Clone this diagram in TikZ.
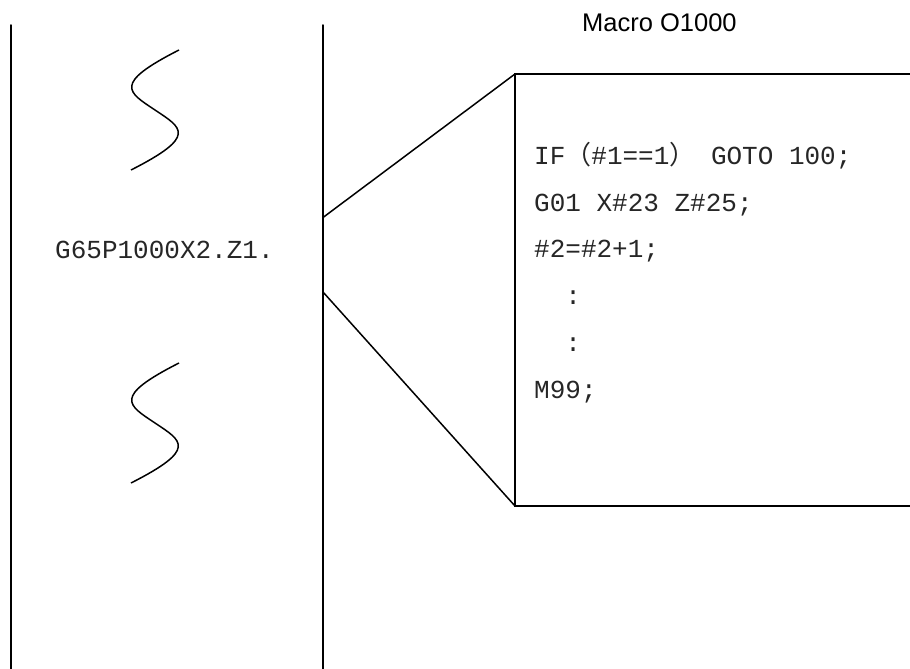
\documentclass[tikz,border=0pt]{standalone}
\usepackage{fontspec}
\setmainfont{Liberation Sans}
\newfontfamily\monof{Liberation Mono}
\newfontfamily\cjk{Noto Sans CJK SC}
\begin{document}
\begin{tikzpicture}[x=1pt,y=-1pt,
  edge/.style={line width=1.5pt,line cap=round},
  wave/.style={line width=1.5pt},
  code/.style={anchor=base west,inner sep=0pt,font=\monof\fontsize{26}{26}\selectfont,text=black!85},
  title/.style={anchor=base west,inner sep=0pt,font=\fontsize{25.5}{26}\selectfont}]
\useasboundingbox (0,0) rectangle (910,669);
% main program strip
\coordinate (lt) at (11,25);
\coordinate (lb) at (11,669);
\coordinate (rt) at (323,25);
\coordinate (rb) at (323,669);
\draw[edge] (lt) -- (lb);
\draw[edge] (rt) -- (rb);
\coordinate (ca) at (323,217.5);
\coordinate (cb) at (323,292);
% macro box
\coordinate (bt) at (515,74);
\coordinate (bb) at (515,506);
\coordinate (btr) at (912,74);
\coordinate (bbr) at (912,506);
\draw[edge] (btr) -- (bt) -- (bb) -- (bbr);
\draw[edge] (ca) -- (bt);
\draw[edge] (cb) -- (bb);
% break waves
\draw[wave] (179,50) .. controls (112,84) and (128,92) .. (155,110)
                     .. controls (182,128) and (198,136) .. (131,170);
\draw[wave] (179,363) .. controls (112,397) and (128,405) .. (155,423)
                      .. controls (182,441) and (198,449) .. (131,483);
% texts
\node[code] (call) at (55,258) {G65P1000X2.Z1.};
\node[title] (ttl) at (582,32) {Macro O1000};
\node[code] (l1) at (534,164.5) {IF{\cjk （}\#1==1{\cjk ）} GOTO 100;};
\node[code] (l2) at (534,211) {G01 X\#23 Z\#25;};
\node[code] (l3) at (534,257.5) {\#2=\#2+1;};
\node[code] (l4) at (534,304) {\ \ :};
\node[code] (l5) at (534,351) {\ \ :};
\node[code] (l6) at (534,398) {M99;};
\end{tikzpicture}
\end{document}
